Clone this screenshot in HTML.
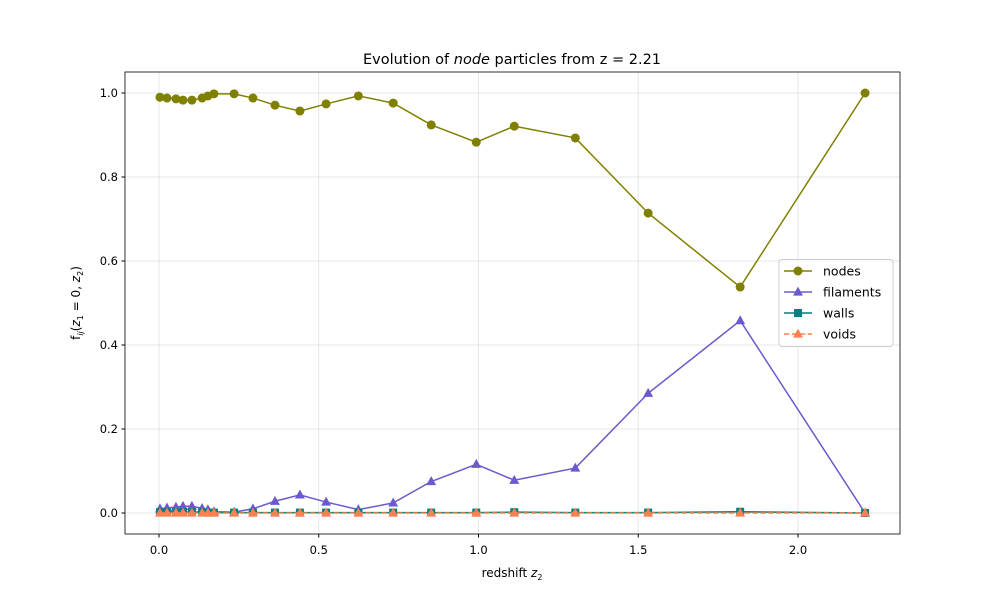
<!DOCTYPE html>
<html><head><meta charset="utf-8"><style>
body{margin:0;background:#fff}
svg text{font-family:"DejaVu Sans","Liberation Sans",sans-serif;fill:#000}
</style></head><body>
<svg id="chart" width="1000" height="600" viewBox="0 0 1000 600"></svg>
<script>
const redshifts=[0.003,0.025,0.053,0.075,0.103,0.135,0.153,0.172,0.235,0.294,0.363,0.441,0.523,0.624,0.733,0.852,0.993,1.112,1.303,1.531,1.819,2.21];
const nodes=[0.990,0.988,0.986,0.983,0.983,0.988,0.993,0.998,0.998,0.988,0.971,0.957,0.974,0.993,0.976,0.924,0.883,0.921,0.893,0.714,0.538,1.0];
const filaments=[0.010,0.012,0.014,0.016,0.016,0.011,0.008,0.003,0.002,0.010,0.028,0.043,0.026,0.008,0.024,0.075,0.116,0.078,0.107,0.285,0.458,0.0];
const walls=[0.002,0.002,0.002,0.002,0.002,0.002,0.001,0.001,0.001,0.001,0.001,0.001,0.001,0.001,0.001,0.001,0.001,0.002,0.001,0.001,0.003,0.0];
const voids=[0,0,0,0,0,0,0,0,0,0,0,0,0,0,0,0,0,0,0,0,0,0];
const xTicks=[0,0.5,1.0,1.5,2.0];
const xTickLabels=["0.0","0.5","1.0","1.5","2.0"];
const yTicks=[0,0.2,0.4,0.6,0.8,1.0];
const yTickLabels=["0.0","0.2","0.4","0.6","0.8","1.0"];

const L=125,R=900,T=72,B=534;
const xs=v=>159+v*319.5;
const ys=v=>513-v*420;
const svg=document.getElementById('chart');
const NS='http://www.w3.org/2000/svg';
function mk(tag,attrs,parent){const e=document.createElementNS(NS,tag);for(const k in attrs)e.setAttribute(k,attrs[k]);(parent||svg).appendChild(e);return e;}

const grid=mk('g',{});


xTicks.forEach(t=>mk('line',{x1:xs(t),x2:xs(t),y1:T,y2:B,stroke:'#b0b0b0','stroke-opacity':0.3,'stroke-width':1},grid));
yTicks.forEach(t=>mk('line',{x1:L,x2:R,y1:ys(t),y2:ys(t),stroke:'#b0b0b0','stroke-opacity':0.3,'stroke-width':1},grid));

const xa=mk('g',{});


xTicks.forEach((t,i)=>{mk('line',{x1:xs(t),x2:xs(t),y1:B,y2:B+3.5,stroke:'#000'},xa);
 const tx=mk('text',{x:xs(t),y:B+20,'text-anchor':'middle','font-size':11.5},xa);tx.textContent=xTickLabels[i];});
const ya=mk('g',{});


yTicks.forEach((t,i)=>{mk('line',{x1:L,x2:L-3.5,y1:ys(t),y2:ys(t),stroke:'#000'},ya);
 const tx=mk('text',{x:L-7,y:ys(t)+4,'text-anchor':'end','font-size':11.5},ya);tx.textContent=yTickLabels[i];});

function marker(g,type,x,y,color,size){
 if(type==='o')mk('circle',{cx:x,cy:y,r:size,fill:color},g);
 else if(type==='s')mk('rect',{x:x-size,y:y-size,width:2*size,height:2*size,fill:color},g);
 else mk('polygon',{points:`${x},${y-size*1.2} ${x-size*1.1},${y+size*0.8} ${x+size*1.1},${y+size*0.8}`,fill:color},g);
}
const series=[
 {name:'nodes',vals:nodes,color:'#808000',m:'o',dash:null},
 {name:'filaments',vals:filaments,color:'#6a5acd',m:'^',dash:null},
 {name:'walls',vals:walls,color:'#008080',m:'s',dash:null},
 {name:'voids',vals:voids,color:'#ff7f50',m:'^',dash:'5.5,2.4'}
];
series.forEach(s=>{
 const g=mk('g',{});
 
 
 const pts=redshifts.map((z,i)=>xs(z)+','+ys(s.vals[i])).join(' ');
 const pl=mk('polyline',{points:pts,fill:'none',stroke:s.color,'stroke-width':1.5},g);
 if(s.dash)pl.setAttribute('stroke-dasharray',s.dash);
 redshifts.forEach((z,i)=>marker(g,s.m,xs(z),ys(s.vals[i]),s.color,s.m==='s'?4:4.5));
});

mk('rect',{x:L,y:T,width:R-L,height:B-T,fill:'none',stroke:'#000','stroke-width':0.8});

let t=mk('text',{x:512,y:64,'text-anchor':'middle','font-size':14.5});


t.innerHTML='Evolution of <tspan font-style="italic">node</tspan> particles from z = 2.21';
t=mk('text',{x:512,y:577,'text-anchor':'middle','font-size':12});


t.innerHTML='redshift <tspan font-style="italic">z</tspan><tspan font-size="8" dy="3">2</tspan>';
t=mk('text',{x:0,y:0,'text-anchor':'middle','font-size':12,transform:'translate(80,303) rotate(-90)'});


t.innerHTML='f<tspan font-size="8" dy="3" font-style="italic">ij</tspan><tspan dy="-3">(</tspan><tspan font-style="italic">z</tspan><tspan font-size="8" dy="3">1</tspan><tspan dy="-3"> = 0, </tspan><tspan font-style="italic">z</tspan><tspan font-size="8" dy="3">2</tspan><tspan dy="-3">)</tspan>';

const lg=mk('g',{});


mk('rect',{x:779,y:259.5,width:114,height:87,rx:3,fill:'#fff','fill-opacity':0.8,stroke:'#ccc'},lg);
series.forEach((s,i)=>{
 const y=271+i*21;
 const e=mk('g',{},lg);
 
 
 const ln=mk('line',{x1:784,x2:812,y1:y,y2:y,stroke:s.color,'stroke-width':1.5},e);
 if(s.dash)ln.setAttribute('stroke-dasharray',s.dash);
 marker(e,s.m,798,y,s.color,s.m==='s'?4:4.5);
 const tx=mk('text',{x:823,y:y+4.5,'font-size':12.5},e);tx.textContent=s.name;
});
</script>
</body></html>
